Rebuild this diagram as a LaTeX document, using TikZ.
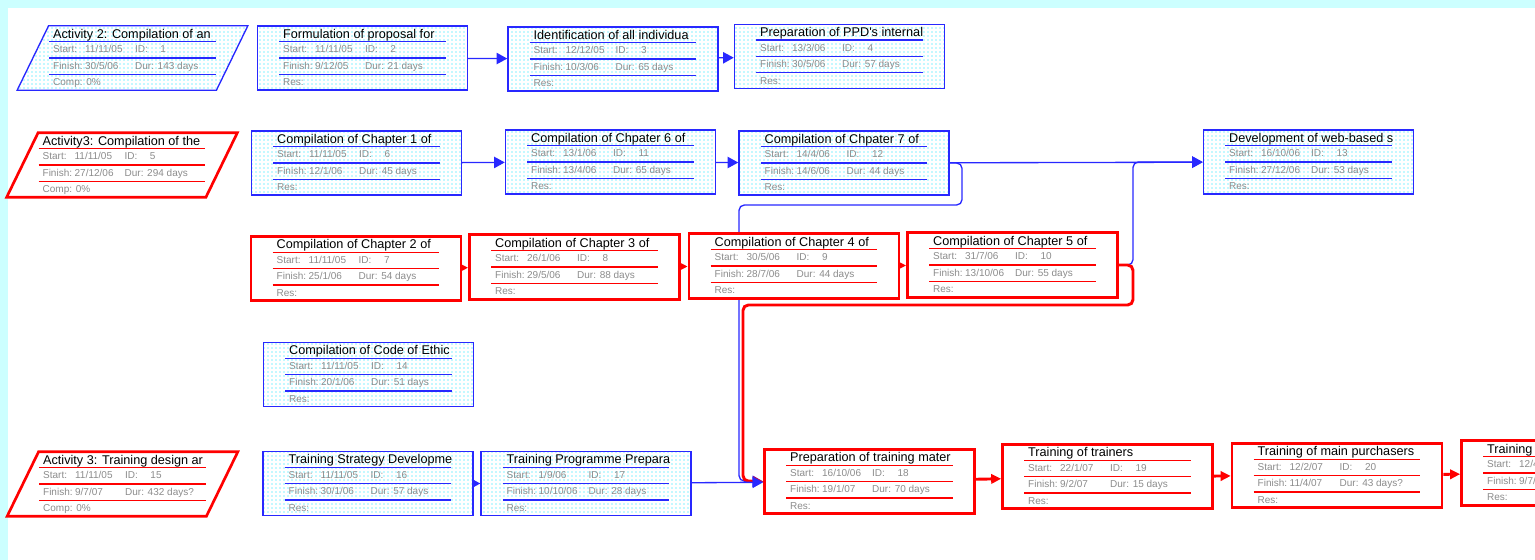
\documentclass[tikz,border=0pt]{standalone}
\usepackage{fontspec}
\usepackage{colortbl}
\usetikzlibrary{shapes}
\usetikzlibrary{patterns}
\usetikzlibrary{arrows.meta}
\newfontfamily\taskfont{Liberation Sans}
\definecolor{taskblue}{RGB}{40,40,255}
\definecolor{taskred}{RGB}{255,0,0}
\definecolor{dotcyan}{RGB}{0,225,255}
\definecolor{datagray}{RGB}{140,140,140}
\definecolor{bgcyan}{RGB}{204,255,255}
\setlength{\arrayrulewidth}{0.9pt}
\newcommand{\titlesize}{\fontsize{9.5}{11.4}\selectfont}
\newcommand{\datasize}{\fontsize{7.5}{9}\selectfont\color{datagray}}
\newcommand{\tasktext}[6]{%
  \begin{tabular}{@{\hspace{3pt}}l@{}}
    \makebox[122pt][l]{\raisebox{-1.2pt}{#1}}\\ \hline
    {\datasize\makebox[24pt][l]{Start:}\makebox[37.5pt][l]{#2}\ifx\relax#3\relax\else\makebox[19pt][l]{ID:}#3\fi}\\ \hline
    {\datasize\makebox[24pt][l]{Finish:}\makebox[37.5pt][l]{#4}\ifx\relax#5\relax\else Dur: #5\fi}\\ \hline
    {\datasize #6}\\
  \end{tabular}}
\pgfdeclarelayer{back}
\pgfsetlayers{back,main}
\tikzset{
    tasknodeb/.style = {rectangle, draw=taskblue, line width=1.1pt, minimum width=157.5pt, minimum height=48pt, inner sep=0pt, preaction={fill=white}, pattern=dots, pattern color=dotcyan, font=\taskfont\titlesize, execute at begin node={\arrayrulecolor{taskblue}}},
    tasknoder/.style = {rectangle, draw=taskred, line width=2pt, fill=white, minimum width=157.5pt, minimum height=48pt, inner sep=0pt, font=\taskfont\titlesize, execute at begin node={\arrayrulecolor{taskred}}},
    paranodeb/.style = {trapezium, trapezium left angle=64, trapezium right angle=116, trapezium stretches body, draw=taskblue, line width=1pt, minimum width=173pt, minimum height=48pt, inner sep=0pt, preaction={fill=white}, pattern=dots, pattern color=dotcyan, font=\taskfont\titlesize, execute at begin node={\arrayrulecolor{taskblue}}},
    paranoder/.style = {trapezium, trapezium left angle=64, trapezium right angle=116, trapezium stretches body, draw=taskred, line width=2pt, fill=white, minimum width=173pt, minimum height=48pt, inner sep=0pt, font=\taskfont\titlesize, execute at begin node={\arrayrulecolor{taskred}}},
    edgeb/.style = {-{Triangle[length=8pt,width=8.5pt]}, line width=1pt, taskblue},
    edger/.style = {-{Triangle[length=7.5pt,width=7pt]}, line width=2.2pt, taskred}, % critical
    route/.style = {rounded corners=4pt}
}

\begin{document}
\begin{tikzpicture}[x=0.75pt,y=-0.75pt]
\useasboundingbox (0,0) rectangle (1535,560);
\begin{pgfonlayer}{back}
\fill[bgcyan] (0,0) rectangle (1535,560);
\fill[white] (8,8) rectangle (1535,560);
\end{pgfonlayer}
\clip (0,0) rectangle (1535,560);
%
\node[paranodeb] at (132.5,58) (id1) {\tasktext{Activity 2: Compilation of an}{11/11/05}{1}{30/5/06}{143 days}{Comp: 0\%}};
\node[tasknodeb] at (362.5,58) (id2) {\tasktext{Formulation of proposal for}{11/11/05}{2}{9/12/05}{21 days}{Res:}};
\node[tasknodeb] at (613,59) (id3) {\tasktext{Identification of all individua}{12/12/05}{3}{10/3/06}{65 days}{Res:}};
\node[tasknodeb] at (839.5,56.5) (id4) {\tasktext{Preparation of PPD's internal}{13/3/06}{4}{30/5/06}{57 days}{Res:}};
%
\node[paranoder] at (122,165) (id5) {\tasktext{Activity3: Compilation of the}{11/11/05}{5}{27/12/06}{294 days}{Comp: 0\%}};
\node[tasknodeb] at (356.5,163) (id6) {\tasktext{Compilation of Chapter 1 of}{11/11/05}{6}{12/1/06}{45 days}{Res:}};
\node[tasknodeb] at (610.5,162) (id11) {\tasktext{Compilation of Chpater 6 of}{13/1/06}{11}{13/4/06}{65 days}{Res:}};
\node[tasknodeb] at (844,163) (id12) {\tasktext{Compilation of Chpater 7 of}{14/4/06}{12}{14/6/06}{44 days}{Res:}};
\node[tasknodeb] at (1308.5,162) (id13) {\tasktext{Development of web-based s}{16/10/06}{13}{27/12/06}{53 days}{Res:}};
%
\node[tasknoder] at (356,268.5) (id7) {\tasktext{Compilation of Chapter 2 of}{11/11/05}{7}{25/1/06}{54 days}{Res:}};
\node[tasknoder] at (574.5,267) (id8) {\tasktext{Compilation of Chapter 3 of}{26/1/06}{8}{29/5/06}{88 days}{Res:}};
\node[tasknoder] at (794,266) (id9) {\tasktext{Compilation of Chapter 4 of}{30/5/06}{9}{28/7/06}{44 days}{Res:}};
\node[tasknoder] at (1012.5,265) (id10) {\tasktext{Compilation of Chapter 5 of}{31/7/06}{10}{13/10/06}{55 days}{Res:}};
%
\node[tasknodeb] at (368.5,374.5) (id14) {\tasktext{Compilation of Code of Ethic}{11/11/05}{14}{20/1/06}{51 days}{Res:}};
%
\node[paranoder] at (122.5,484) (id15) {\tasktext{Activity 3: Training design ar}{11/11/05}{15}{9/7/07}{432 days?}{Comp: 0\%}};
\node[tasknodeb] at (368,483.5) (id16) {\tasktext{Training Strategy Developme}{11/11/05}{16}{30/1/06}{57 days}{Res:}};
\node[tasknodeb] at (586,483.5) (id17) {\tasktext{Training Programme Prepara}{1/9/06}{17}{10/10/06}{28 days}{Res:}};
\node[tasknoder] at (869.5,481.5) (id18) {\tasktext{Preparation of training mater}{16/10/06}{18}{19/1/07}{70 days}{Res:}};
\node[tasknoder] at (1107.5,476.5) (id19) {\tasktext{Training of trainers}{22/1/07}{19}{9/2/07}{15 days}{Res:}};
\node[tasknoder] at (1337,475.5) (id20) {\tasktext{Training of main purchasers}{12/2/07}{20}{11/4/07}{43 days?}{Res:}};
\node[tasknoder] at (1566.5,473) (id21) {\tasktext{Training}{12/4}{}{9/7/}{}{Res:}};
%
\begin{pgfonlayer}{back}
\draw[edgeb] (id2) edge node {} (id3);
\draw[edgeb] (id3) edge node {} (id4);
\draw[edgeb] (id6) edge node {} (id11);
\draw[edgeb] (id11) edge node {} (id12);
\draw[edgeb] (id12) edge node {} (id13);
\draw[edgeb,route] (id10.east) -| (1133,162) -- (id13.west);
\draw[edgeb,route] (id12.east) -| (962,205) -| (739,481) -- (id18.west);
\draw[edger,route] (id10.east) -| (1133,305) -| (743,481) -- (id18.west);
\draw[edgeb] (id16) edge node {} (id17);
\draw[edgeb] (id17) edge node {} (id18);
%
\draw[edger] (id7) edge node {} (id8);
\draw[edger] (id8) edge node {} (id9);
\draw[edger] (id9) edge node {} (id10);
\draw[edger] (id18) edge node {} (id19);
\draw[edger] (id19) edge node {} (id20);
\draw[edger] (id20) edge node {} (id21);
\end{pgfonlayer}
\end{tikzpicture}
\end{document}
